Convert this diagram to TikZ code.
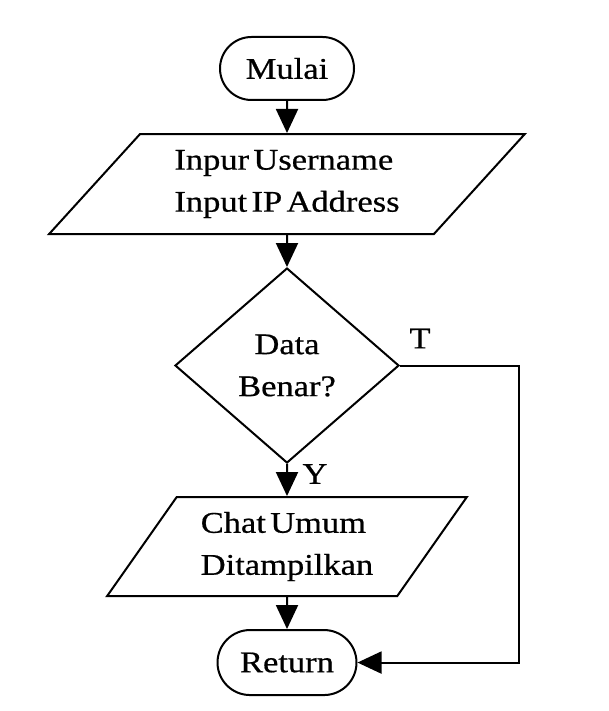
\documentclass[tikz,border=0pt]{standalone}
\usepackage{fontspec}
\setmainfont{Liberation Serif}[FakeStretch=1.15,WordSpace=0.5,FakeBold=0.6]
\usetikzlibrary{arrows.meta,positioning,shapes.geometric,shapes.misc}

\begin{document}
\begin{tikzpicture}
    [node distance = 16pt, font=\fontsize{15}{21}\selectfont,
    >={Triangle[length=12pt,width=11pt]},
    % STYLES
    % The terminal style is used for start and end
    terminal/.style={rounded rectangle, draw, line width=1pt, minimum width=71pt, minimum height=31.5pt, inner sep=2pt},
    % The io style is used for input and output
    io/.style={trapezium, draw, line width=1pt, trapezium stretches=true, minimum height=50pt, inner sep=2pt, align=left},
    % The decision style is used for the check
    decision/.style={diamond, draw, line width=1pt, aspect=1.15, minimum width=112pt, minimum height=97.5pt, inner sep=1pt, align=center},
    line/.style={line width=1pt}]

    \useasboundingbox (0,0) rectangle (304.5pt,-355.5pt);

    % Draw steps
    \node [terminal] (mulai) at (143.5pt,-34.25pt) {Mulai};
    \node [io, minimum width=238pt, trapezium left angle=46.5, trapezium right angle=133.5, below=of mulai] (input) {Inpur Username\\Input IP Address};
    \node [decision, below=of input] (cek) {Data\\Benar?};
    \node [io, minimum width=180pt, minimum height=49.5pt, trapezium left angle=53.6, trapezium right angle=126.4, below=of cek] (chat) {Chat Umum\\Ditampilkan};
    \node [terminal, minimum width=73.5pt, minimum height=32.5pt, below=of chat] (return) {Return};

    % Labels
    \node (t) at ([xshift=10pt,yshift=13.5pt]cek.east) {T};
    \node (y) at ([xshift=14pt,yshift=-5pt]cek.south) {Y};

    \path[->,line] 
    (mulai) edge (input)
    (input) edge (cek)
    (cek) edge (chat)
    (chat) edge (return);
    \draw[->,line] (cek.east) -- ++(59.5pt,0) |- (return.east);
\end{tikzpicture}
\end{document}
